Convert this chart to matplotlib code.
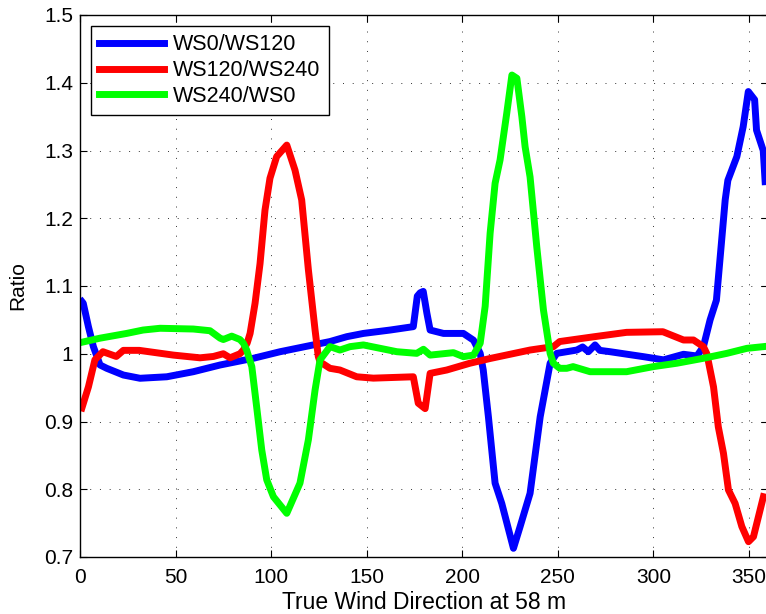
import numpy as np
import matplotlib
matplotlib.use("Agg")
import matplotlib.pyplot as plt

plt.rcParams['font.family'] = ['Liberation Sans', 'DejaVu Sans']

# wind direction (deg) and ratio for each sensor pair
blue_x = [1, 1.7, 4.4, 7, 10.5, 14, 22.7, 31.4, 45.4, 59.3, 73.3, 90.7, 104.7, 122, 130.8,
          139.6, 148.3, 162.3, 174.4, 176.5, 178, 179.6, 181.5, 183.2, 190.2, 200.6, 205.9,
          209.4, 211, 213.7, 217.2, 220.7, 226.8, 230.3, 235.5, 240.8, 246, 249.5, 260,
          263, 266, 269.5, 272, 277.4, 294.8, 305.3, 315.8, 322.8, 326.2, 329.7, 333,
          337.6, 339, 343.7, 347, 349.7, 353, 354, 357.5, 358.5]
blue_y = [1.077, 1.0745, 1.04, 1.0105, 0.9834, 0.9785, 0.9686, 0.9638, 0.966, 0.9735, 0.9834,
          0.9933, 1.003, 1.013, 1.018, 1.0252, 1.030, 1.035, 1.04, 1.085, 1.09, 1.092, 1.06,
          1.035, 1.030, 1.030, 1.020, 1.0006, 0.976, 0.907, 0.809, 0.779, 0.7128, 0.745,
          0.794, 0.907, 0.986, 1.0006, 1.0055, 1.010, 1.003, 1.013, 1.005, 1.003, 0.9957,
          0.991, 0.9992, 0.9967, 1.0105, 1.05, 1.079, 1.227, 1.256, 1.291, 1.335, 1.387,
          1.375, 1.33, 1.30, 1.254]

red_x = [1, 4.4, 7.8, 12, 19, 22.7, 31, 48.9, 62.8, 69.8, 75, 78.5, 83.7, 85.5, 87.5, 89,
         91.6, 94.2, 96.8, 99.4, 102.9, 108.2, 112.5, 116, 119.5, 123, 124.7, 125.6, 130.8,
         136, 144.8, 153.5, 174.4, 177, 180.6, 183.2, 191.9, 204, 214.6, 235.5, 247.7, 251,
         268.7, 286, 305, 315.8, 321, 326.2, 328, 331.5, 334, 336.7, 339.3, 342.8, 346.3,
         349.8, 352.4, 355, 357.6]
red_y = [0.92, 0.951, 0.991, 1.003, 0.996, 1.005, 1.005, 0.998, 0.994, 0.996, 1.0, 0.994,
         1.0, 1.0055, 1.016, 1.030, 1.0745, 1.133, 1.212, 1.259, 1.291, 1.308, 1.271, 1.227,
         1.124, 1.035, 0.9957, 0.988, 0.9785, 0.976, 0.966, 0.964, 0.966, 0.927, 0.919,
         0.971, 0.976, 0.986, 0.993, 1.0055, 1.0105, 1.018, 1.025, 1.0316, 1.0325, 1.0203,
         1.0203, 1.0105, 1.0, 0.951, 0.892, 0.853, 0.799, 0.779, 0.745, 0.7226, 0.730,
         0.7595, 0.789]

green_x = [1, 10.5, 24.4, 33, 41.9, 59.3, 68, 73.3, 75, 79.4, 83.7, 85.5, 87.2, 89.9, 92.5,
           95.1, 97.7, 101.2, 108.2, 115.1, 119.5, 123, 125.6, 130.8, 136, 141.3, 148.3,
           165.8, 176.2, 179.7, 183.2, 195.4, 200.6, 205.9, 209.4, 212, 214.6, 217.2, 219.8,
           223.3, 226, 228.6, 231.2, 232.9, 235.5, 239, 242.5, 246, 247.7, 251, 254.7, 258,
           266.9, 286, 300, 312.3, 326.2, 338.5, 349, 357.6]
green_y = [1.017, 1.023, 1.030, 1.035, 1.0376, 1.0365, 1.034, 1.023, 1.021, 1.026, 1.021,
           1.0155, 1.0055, 0.981, 0.92, 0.858, 0.814, 0.789, 0.7645, 0.809, 0.873, 0.9465,
           0.991, 1.0105, 1.0055, 1.0105, 1.013, 1.003, 1.0006, 1.0066, 0.998, 1.0016, 0.9957,
           0.998, 1.0155, 1.07, 1.178, 1.2516, 1.286, 1.355, 1.4114, 1.4066, 1.35, 1.3056,
           1.261, 1.158, 1.0646, 1.0006, 0.986, 0.9785, 0.9785, 0.981, 0.9735, 0.9735, 0.981,
           0.986, 0.9933, 1.0006, 1.008, 1.0105]

labels = ['WS0/WS120', 'WS120/WS240', 'WS240/WS0']
xticks = [0, 50, 100, 150, 200, 250, 300, 350]
yticks = [0.7, 0.8, 0.9, 1.0, 1.1, 1.2, 1.3, 1.4, 1.5]
ytick_labels = ['0.7', '0.8', '0.9', '1', '1.1', '1.2', '1.3', '1.4', '1.5']

fig = plt.figure(figsize=(7.66, 6.14), dpi=100)
ax = fig.add_axes([80 / 766, 57 / 614, 688 / 766, 542 / 614])

ax.plot(blue_x, blue_y, color=(0, 0, 1), lw=5, label=labels[0], solid_joinstyle='round')
ax.plot(red_x, red_y, color=(1, 0, 0), lw=5, label=labels[1], solid_joinstyle='round')
ax.plot(green_x, green_y, color=(0, 1, 0), lw=5, label=labels[2], solid_joinstyle='round')

ax.set_xlim(0, 360)
ax.set_ylim(0.7, 1.5)
ax.set_xticks(xticks)
ax.set_yticks(yticks)
ax.set_yticklabels(ytick_labels)
ax.tick_params(direction='in', top=True, right=True, length=5, width=0.8,
               labelsize=15, colors='k')
ax.tick_params(axis='x', pad=8)
ax.tick_params(axis='y', pad=5)
ax.grid(True, color='k', linestyle=(0, (1, 9)), lw=0.7, alpha=0.8)
for s in ax.spines.values():
    s.set_linewidth(1.0)

ax.set_xlabel('True Wind Direction at 58 m', fontsize=16.5, labelpad=3)
ax.set_ylabel('Ratio', fontsize=15, labelpad=12)

leg = ax.legend(loc='upper left', fontsize=15.5, frameon=True, fancybox=False,
                edgecolor='k', framealpha=1, borderpad=0.4, labelspacing=0.22,
                handlelength=3.0, handletextpad=0.4, borderaxespad=0.5)
leg.get_frame().set_linewidth(1.0)

fig.savefig('out.png', dpi=100)
